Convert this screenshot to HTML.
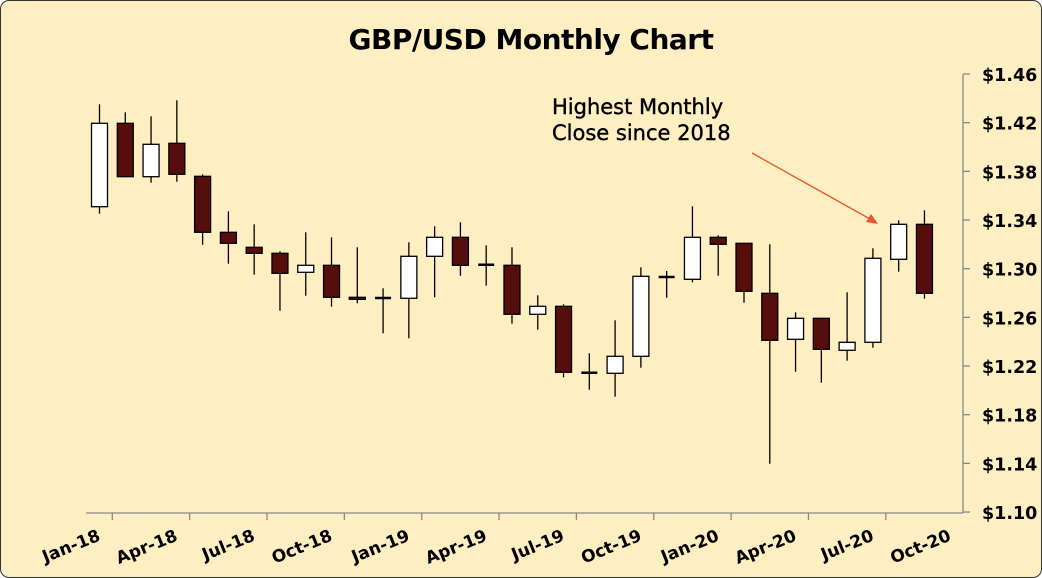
<!DOCTYPE html>
<html><head><meta charset="utf-8"><style>
html,body{margin:0;padding:0;background:#fff;}
#c{position:absolute;left:0;top:0;width:1040px;height:576px;border:1px solid #333;border-radius:9px;background:#FEEFC3;overflow:hidden;}
svg{position:absolute;left:0;top:0;}
text{font-family:"DejaVu Sans",sans-serif;font-weight:bold;fill:#000;}
</style></head><body>
<div id="c"></div>
<svg id="s" width="1042" height="578" xmlns="http://www.w3.org/2000/svg">
<text x="531" y="49" text-anchor="middle" font-size="28" letter-spacing="-0.5">GBP/USD Monthly Chart</text>
<text x="552" y="114" font-size="21" style="font-weight:normal" stroke="#000" stroke-width="0.4">Highest Monthly</text>
<text x="552" y="140" font-size="21" style="font-weight:normal" stroke="#000" stroke-width="0.4">Close since 2018</text>
<line x1="752" y1="153" x2="870" y2="219" stroke="#E8552F" stroke-width="1.3"/>
<polygon points="878,224 866,222 871,214" fill="#E8552F"/>
<g id="g"></g>
</svg>
<script>
var g=document.getElementById('g'),h='';
h+='<line x1="963" y1="74" x2="963" y2="513" stroke="#888" stroke-width="1.3"/>';
h+='<line x1="86" y1="513" x2="963" y2="513" stroke="#888" stroke-width="1.3"/>';
var labs=['$1.46','$1.42','$1.38','$1.34','$1.30','$1.26','$1.22','$1.18','$1.14','$1.10'];
for(var k=0;k<10;k++){var y=74+k*48.67;
h+='<line x1="963" y1="'+y+'" x2="970" y2="'+y+'" stroke="#888" stroke-width="1.3"/>';
h+='<text x="982" y="'+(y+7)+'" font-size="17.5">'+labs[k]+'</text>';}
var xl=['Jan-18','Apr-18','Jul-18','Oct-18','Jan-19','Apr-19','Jul-19','Oct-19','Jan-20','Apr-20','Jul-20','Oct-20'];
for(var k=0;k<12;k++){var x=112.3+k*77.35;
if(k<11)h+='<line x1="'+x+'" y1="513" x2="'+x+'" y2="520" stroke="#888" stroke-width="1.3"/>';
var tx=(k<11?x:963)-11;
h+='<text x="'+tx+'" y="540" font-size="17" text-anchor="end" transform="rotate(-22 '+tx+' 540)">'+xl[k]+'</text>';}
var d=[[123.3,206.7,104.3,213.7,0],[123.3,176.7,112.3,176.7,1],[144.3,176.7,116.3,182.7,0],[143.3,174.3,100.3,181.7,1],
[176.3,232.3,174.3,244.7,1],[232.3,243.3,211.3,263.7,1],[247.3,253.3,224.3,274.7,1],[253.3,273.3,251.3,310.7,1],
[265.3,272.3,232.3,295.7,0],[265.3,297.3,237.3,306.7,1],[297.3,299.3,247.3,303.3,1],[298,298,288.3,333.3,2],
[256.3,298.3,242.3,338.3,0],[237.3,256.3,226.3,297.3,0],[237.3,265.3,222.3,275.7,1],[264.7,264.7,245.3,285.7,2],
[265.3,314.3,247.3,323.7,1],[306.3,314.3,295.3,329.7,0],[306.3,372.3,304.3,377.3,1],[372.7,372.7,353.3,389.7,2],
[356.3,373.3,320.3,396.7,0],[276.3,356.3,267.3,367.7,0],[277,277,271,297.7,2],[237.3,279.3,206.3,282.3,0],
[237.3,244.3,235.3,275.7,1],[243.3,291.3,243.3,302.7,1],[293.3,340.3,244.3,463.7,1],[318.3,339.3,312.3,371.7,0],
[318.3,349.3,318,382.7,1],[342.3,350.3,292.3,360.7,0],[258.3,342.3,248.3,347.7,0],[224.3,259.3,220.3,271.7,0],
[224.3,293.3,210.3,298.7,1]];
for(var i=0;i<d.length;i++){var c=d[i],x=99.5+i*25.78;
h+='<line x1="'+x+'" y1="'+c[2]+'" x2="'+x+'" y2="'+c[3]+'" stroke="#000" stroke-width="1.3"/>';
if(c[4]==2){h+='<line x1="'+(x-8)+'" y1="'+c[0]+'" x2="'+(x+8)+'" y2="'+c[0]+'" stroke="#000" stroke-width="2.5"/>';}
else{var hh=Math.max(c[1]-c[0],2);h+='<rect x="'+(x-8)+'" y="'+c[0]+'" width="16" height="'+hh+'" fill="'+(c[4]?'#560E0D':'#fff')+'" stroke="#000" stroke-width="1.3"/>';}}
g.innerHTML=h;
</script>
</body></html>
